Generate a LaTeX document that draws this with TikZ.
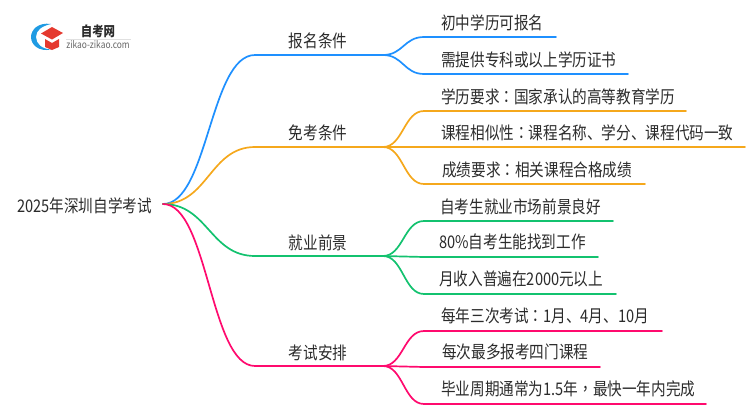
\documentclass[tikz,border=0pt]{standalone}
\usepackage{fontspec}
\setmainfont[FakeStretch=0.84]{Noto Sans CJK SC}
\newfontfamily\tcpunct[FakeStretch=0.84]{Noto Sans CJK TC}
\newcommand{\cn}{{\tcpunct ：}}
\newcommand{\cm}{{\tcpunct ，}}
\definecolor{cblue}{HTML}{1E90FF}
\definecolor{corange}{HTML}{F5A81C}
\definecolor{cgreen}{HTML}{13C26F}
\definecolor{cpink}{HTML}{FF0A6E}
\definecolor{ctext}{HTML}{2B2B2B}
\definecolor{logoblue}{HTML}{1F9BE3}
\definecolor{logored}{HTML}{E5392F}
\tikzset{
  lab/.style={inner sep=0pt,font=\fontsize{17.4pt}{18pt}\selectfont,text=ctext,text height=13pt,text depth=3pt,yshift=-1pt},
  leaf/.style={lab,anchor=west},
  branchlab/.style={lab,anchor=center},
  wire/.style={line width=1.7pt,line cap=round}
}
\begin{document}
\begin{tikzpicture}[x=1pt,y=-1pt]
\useasboundingbox (0,0) rectangle (750,410);
% logo
\fill[logoblue] (51,24) .. controls (38,22) and (31,30) .. (31,37) .. controls (31,45) and (39,52) .. (51,49.5) .. controls (42,49) and (36,44) .. (36,37) .. controls (36,30) and (42,26) .. (51,24) -- cycle;
\fill[logored] (41,33.5) -- (52,27) -- (63,33) -- (52,39.5) -- cycle;
\fill[logored] (45,39) -- (52,43) -- (59,39) -- (59,47) -- (52,50) -- (45,47) -- cycle;
\node[inner sep=0pt,font=\fontsize{13.6pt}{14pt}\selectfont\bfseries,text=ctext] (logotitle) at (98,31) {自考网};
\coordinate (rulea) at (66,39);
\coordinate (ruleb) at (131,39);
\draw[black!12,line width=0.6pt] (rulea) -- (ruleb);
\node[inner sep=0pt,font=\fontsize{10pt}{10pt}\selectfont,text=black!60] (logourl) at (98,45) {zikao-zikao.com};
% root
\node[leaf] (root) at (17,206) {2025年深圳自学考试};
\coordinate (hub) at (163,204);
% branch labels
\node[branchlab] (b1) at (318,41) {报名条件};
\node[branchlab] (b2) at (318,133) {免考条件};
\node[branchlab] (b3) at (318,243) {就业前景};
\node[branchlab] (b4) at (318,353) {考试安排};
% branch line ends
\foreach \n/\y in {1/55,2/147,3/256,4/366}{
  \coordinate (s\n) at (255,\y);
  \coordinate (e\n) at (383,\y);
}
% leaves
\node[leaf] (l11) at (441,23) {初中学历可报名};
\node[leaf] (l12) at (441,60) {需提供专科或以上学历证书};
\node[leaf] (l21) at (441,97) {学历要求\cn 国家承认的高等教育学历};
\node[leaf] (l22) at (441,133) {课程相似性\cn 课程名称、学分、课程代码一致};
\node[leaf] (l23) at (442,170) {成绩要求\cn 相关课程合格成绩};
\node[leaf] (l31) at (440,207) {自考生就业市场前景良好};
\node[leaf] (l32) at (439,242) {80\%自考生能找到工作};
\node[leaf] (l33) at (439,279) {月收入普遍在2000元以上};
\node[leaf] (l41) at (441,316) {每年三次考试\cn 1月、4月、10月};
\node[leaf] (l42) at (442,352) {每次最多报考四门课程};
\node[leaf] (l43) at (441,389) {毕业周期通常为1.5年\cm 最快一年内完成};
% leaf rule ends
\foreach \n/\xa/\ya in {11/556/37,12/628/74,21/686/111,22/745/147,23/645/184,31/613/221,32/598/257,33/616/294,41/662/331,42/600/367,43/706/404}{
  \coordinate (a\n) at (424,\ya);
  \coordinate (z\n) at (\xa,\ya);
}
% connectors
\foreach \n/\c in {1/cblue,2/corange,3/cgreen,4/cpink}{
  \draw[wire,\c] (hub) .. controls +(45,0) and +(-45,0) .. (s\n) -- (e\n);
}
\foreach \n/\c/\leaves in {1/cblue/{11,12},2/corange/{21,22,23},3/cgreen/{31,32,33},4/cpink/{41,42,43}}{
  \foreach \m in \leaves {
    \draw[wire,\c] (e\n) .. controls +(20,0) and +(-20,0) .. (a\m) -- (z\m);
  }
}
\end{tikzpicture}
\end{document}
